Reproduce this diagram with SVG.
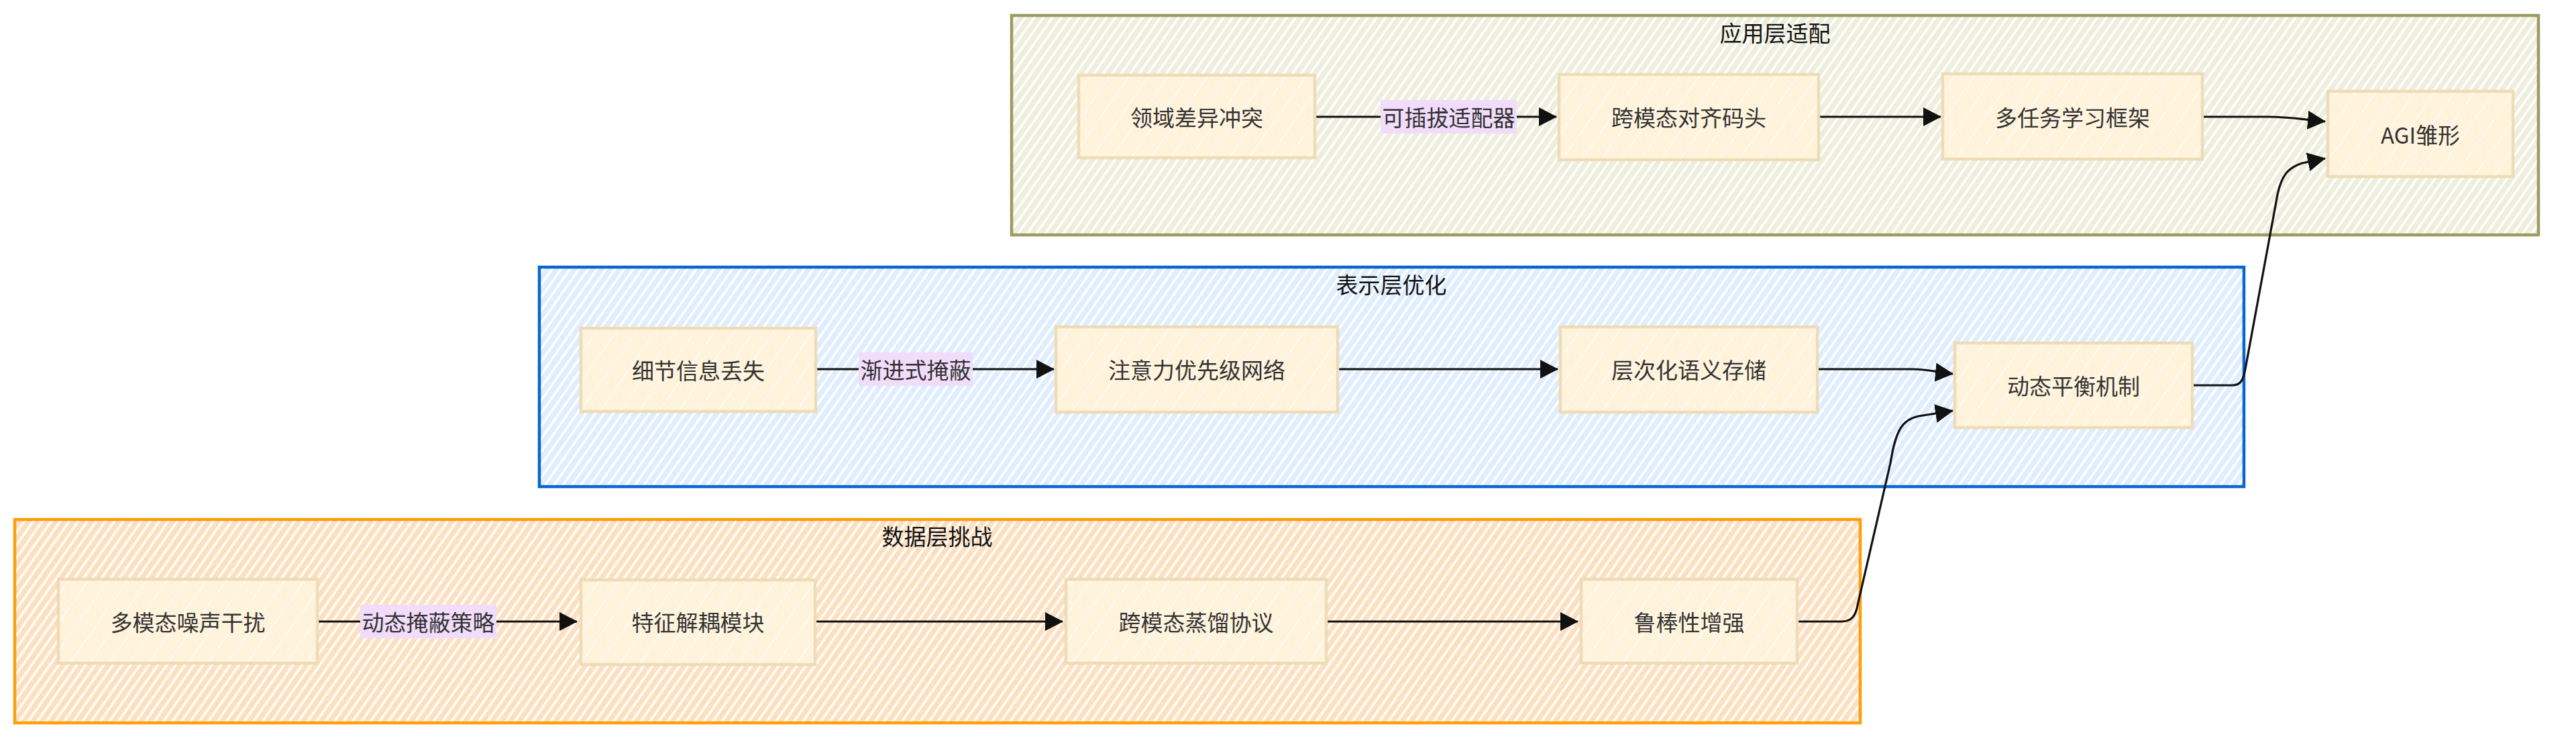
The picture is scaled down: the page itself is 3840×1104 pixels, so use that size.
<svg xmlns="http://www.w3.org/2000/svg" width="3840" height="1104" viewBox="0 0 3840 1104">
<defs>
<pattern id="hTop" width="11" height="11" patternUnits="userSpaceOnUse" patternTransform="rotate(35)">
<rect width="11" height="11" fill="#eeeedd"/><line x1="2" y1="0" x2="2" y2="11" stroke="#ffffff" stroke-width="3.5"/>
</pattern>
<pattern id="hMid" width="11" height="11" patternUnits="userSpaceOnUse" patternTransform="rotate(35)">
<rect width="11" height="11" fill="#deedff"/><line x1="2" y1="0" x2="2" y2="11" stroke="#ffffff" stroke-width="3.5"/>
</pattern>
<pattern id="hBot" width="11" height="11" patternUnits="userSpaceOnUse" patternTransform="rotate(35)">
<rect width="11" height="11" fill="#fedfbf"/><line x1="2" y1="0" x2="2" y2="11" stroke="#ffffff" stroke-width="3.5"/>
</pattern>
<pattern id="hNode" width="24" height="24" patternUnits="userSpaceOnUse" patternTransform="rotate(35)">
<rect width="24" height="24" fill="#fff3dc"/><line x1="4" y1="0" x2="4" y2="24" stroke="#ffffff" stroke-width="1.6" stroke-opacity="0.85"/>
</pattern>
<marker id="arr" viewBox="0 0 27 28" refX="26" refY="14" markerWidth="27" markerHeight="28" markerUnits="userSpaceOnUse" orient="auto">
<path d="M0,0 L27,14 L0,28 Z" fill="#111111"/>
</marker>
</defs>
<style>
.grp{stroke-width:4.5}
.node rect{fill:url(#hNode);stroke:#eedcb6;stroke-width:4.5}
.ntxt{font-family:"Noto Sans CJK SC","Liberation Sans",sans-serif;font-size:33px;fill:#333333;text-anchor:middle;dominant-baseline:central}
.ttl{font-family:"Noto Sans CJK SC","Liberation Sans",sans-serif;font-size:33px;fill:#111111;text-anchor:middle;dominant-baseline:central}
.edge{fill:none;stroke:#111111;stroke-width:3.2;marker-end:url(#arr)}
.lbg{fill:#f1dcfc}
.ltxt{font-family:"Noto Sans CJK SC","Liberation Sans",sans-serif;font-size:33px;fill:#333333;text-anchor:middle;dominant-baseline:central}
</style>
<rect width="3840" height="1104" fill="#ffffff"/>

<g id="group-app">
<rect class="grp" x="1508" y="23" width="2276" height="327" fill="url(#hTop)" stroke="#9b9b62"/>
<text class="ttl" x="2646" y="48">应用层适配</text>
</g>
<g id="group-rep">
<rect class="grp" x="804" y="398" width="2541" height="327" fill="url(#hMid)" stroke="#0a66cc"/>
<text class="ttl" x="2074" y="423">表示层优化</text>
</g>
<g id="group-data">
<rect class="grp" x="22" y="774" width="2751" height="303" fill="url(#hBot)" stroke="#ff9f0a"/>
<text class="ttl" x="1397" y="798">数据层挑战</text>
</g>

<g id="connectors">
<path class="edge" d="M1960,174 L2320,174"/>
<path class="edge" d="M2711,174 L2893,174"/>
<path class="edge" d="M3283,174 L3380,174 C3415,174 3430,178 3466,181"/>
<path class="edge" d="M1216,550 L1571,550"/>
<path class="edge" d="M1994,550 L2322,550"/>
<path class="edge" d="M2709,550 L2850,550 C2875,550 2890,555 2911,557"/>
<path class="edge" d="M3268,574 L3328,574 C3340,574 3344,566 3347,550 L3395,290 C3401,262 3410,250 3432,243 L3466,236"/>
<path class="edge" d="M473,926 L860,926"/>
<path class="edge" d="M1215,926 L1584,926"/>
<path class="edge" d="M1977,926 L2352,926"/>
<path class="edge" d="M2679,926 L2745,926 C2760,926 2766,918 2769,902 L2818,690 C2826,640 2836,625 2860,620 L2911,612"/>
</g>

<g id="edge-labels">
<rect class="lbg" x="2058" y="149" width="203" height="50"/>
<text class="ltxt" x="2159.5" y="174">可插拔适配器</text>
<rect class="lbg" x="1280" y="525" width="170" height="50"/>
<text class="ltxt" x="1365" y="550">渐进式掩蔽</text>
<rect class="lbg" x="537" y="901" width="203" height="50"/>
<text class="ltxt" x="638.5" y="926">动态掩蔽策略</text>
</g>

<g id="node-domain" class="node"><rect x="1608" y="112" width="352" height="123"/><text class="ntxt" x="1784" y="174">领域差异冲突</text></g>
<g id="node-align" class="node"><rect x="2324" y="111" width="387" height="127"/><text class="ntxt" x="2517.5" y="174">跨模态对齐码头</text></g>
<g id="node-multitask" class="node"><rect x="2896" y="110" width="387" height="127"/><text class="ntxt" x="3089.5" y="174">多任务学习框架</text></g>
<g id="node-agi" class="node"><rect x="3470" y="136" width="276" height="127"/><text class="ntxt" x="3608" y="200">AGI雏形</text></g>

<g id="node-detail" class="node"><rect x="866" y="489" width="350" height="124"/><text class="ntxt" x="1041" y="551">细节信息丢失</text></g>
<g id="node-attention" class="node"><rect x="1574" y="487" width="420" height="127"/><text class="ntxt" x="1784" y="550">注意力优先级网络</text></g>
<g id="node-hier" class="node"><rect x="2326" y="487" width="383" height="127"/><text class="ntxt" x="2517.5" y="550">层次化语义存储</text></g>
<g id="node-balance" class="node"><rect x="2914" y="511" width="354" height="126"/><text class="ntxt" x="3091" y="574">动态平衡机制</text></g>

<g id="node-noise" class="node"><rect x="87" y="863" width="386" height="125"/><text class="ntxt" x="280" y="926">多模态噪声干扰</text></g>
<g id="node-decouple" class="node"><rect x="866" y="864" width="349" height="126"/><text class="ntxt" x="1040.5" y="926">特征解耦模块</text></g>
<g id="node-distill" class="node"><rect x="1589" y="863" width="388" height="125"/><text class="ntxt" x="1783" y="926">跨模态蒸馏协议</text></g>
<g id="node-robust" class="node"><rect x="2357" y="863" width="322" height="125"/><text class="ntxt" x="2518" y="926">鲁棒性增强</text></g>
</svg>
